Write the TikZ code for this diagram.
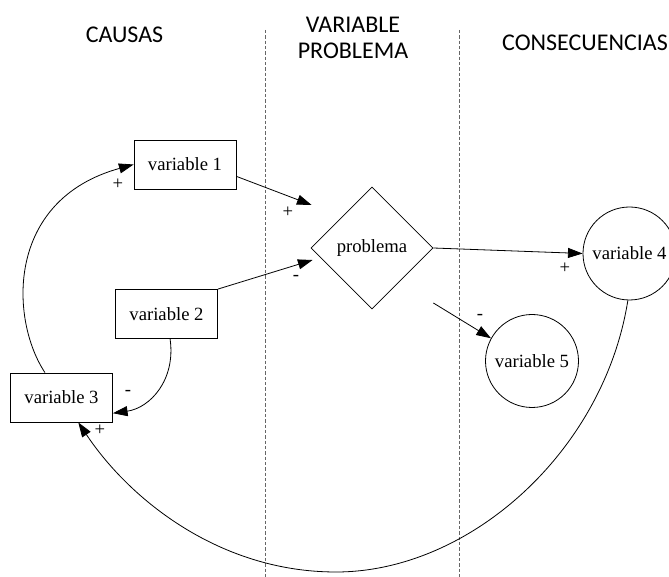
\documentclass[tikz,border=0pt]{standalone}
\usepackage{fontspec}
\setmainfont{Liberation Serif}
\newfontfamily\headfont{Carlito}
\usetikzlibrary{shapes.geometric,arrows.meta}

\tikzset{
  varbox/.style={draw, rectangle, minimum width=76.5pt, minimum height=36.75pt, inner sep=0.75pt, font=\fontsize{14}{16}\selectfont},
  varcirc/.style={draw, circle, minimum size=69.75pt, inner sep=0.75pt, font=\fontsize{14}{16}\selectfont},
  probdiam/.style={draw, diamond, shape aspect=1, minimum width=91.5pt, minimum height=91.5pt, inner sep=0pt, font=\fontsize{14}{16}\selectfont},
  headtxt/.style={inner sep=0.75pt, align=center, font=\headfont\fontsize{18}{19.5}\selectfont},
  signtxt/.style={inner sep=0.75pt, font=\fontsize{14}{16}\selectfont},
  flow/.style={-{Triangle[length=11pt,width=7.5pt]}},
  sepline/.style={dash pattern=on 2.5pt off 1.5pt, black!60}
}

\begin{document}
\begin{tikzpicture}[x=0.75pt,y=0.75pt,yscale=-1,xscale=1,line width=0.6pt]
	\useasboundingbox (0,0) rectangle (669,577);
	
	%Straight Lines [separators]
	\draw[sepline] (265,30) -- (265,577);
	\draw[sepline] (459,30) -- (459,577);
	
	% Text Node
	\node[headtxt] (hcaus) at (124.5,34.5) {CAUSAS};
	% Text Node
	\node[headtxt] (hprob) at (353,37.5) {VARIABLE\\PROBLEMA};
	% Text Node
	\node[headtxt] (hcons) at (585,42.5) {CONSECUENCIAS};
	
	%Shape: Rectangle
	\node[varbox] (v1) at (185,164.5) {variable 1};
	%Shape: Rectangle
	\node[varbox] (v2) at (166.5,314) {variable 2};
	%Shape: Rectangle
	\node[varbox] (v3) at (61.5,397.5) {variable 3};
	%Shape: Diamond
	\node[probdiam] (pr) at (372,248) {problema};
	%Shape: Circle
	\node[varcirc] (v4) at (629.5,253.5) {variable 4};
	%Shape: Circle
	\node[varcirc] (v5) at (532,361) {variable 5};
	
	%Curve Lines
	\draw[flow] (v3) .. controls (10,320) and (5,200) .. (v1.west);
	\draw[flow] (v2) .. controls (176,380) and (150,408) .. (v3.-17);
	\draw[flow] (v4.-92) .. controls (604,451) and (470,572) .. (336,572) .. controls (220,572) and (130,500) .. (v3.-56);
	%Straight Lines
	\draw[flow] (v1.-13) -- ([xshift=0.75pt,yshift=-32.25pt]pr.west);
	\draw[flow] (v2.north east) -- ([xshift=1.5pt,yshift=9pt]pr.west);
	\draw[flow] (pr.east) -- (v4.west);
	\draw[flow] ([yshift=41.25pt]pr.east) -- (v5.151);
	
	% Text Node
	\node[signtxt] (s1) at (118,184) {+};
	% Text Node
	\node[signtxt] (s2) at (288,212) {+};
	% Text Node
	\node[signtxt] (s3) at (296,278) {-};
	% Text Node
	\node[signtxt] (s4) at (565,268) {+};
	% Text Node
	\node[signtxt] (s5) at (480,317) {-};
	% Text Node
	\node[signtxt] (s6) at (128,393) {-};
	% Text Node
	\node[signtxt] (s7) at (100,430) {+};
	
\end{tikzpicture}
\end{document}
